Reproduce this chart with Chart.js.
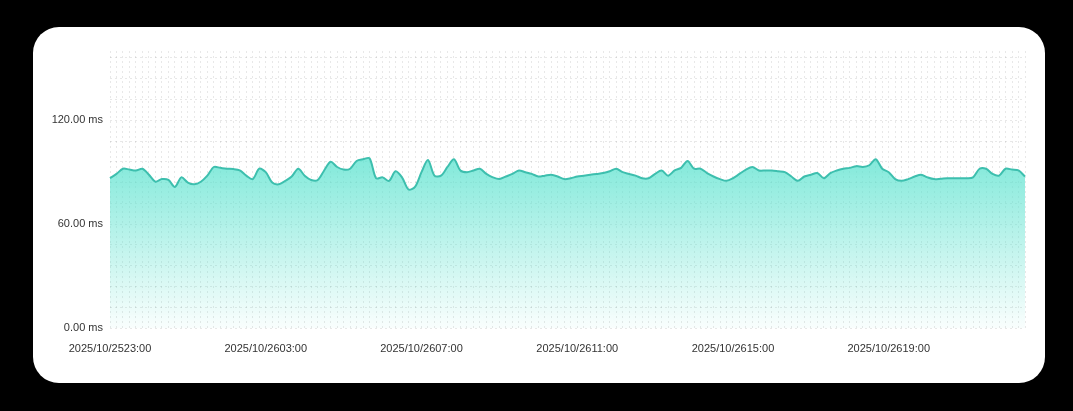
<!DOCTYPE html>
<html><head><meta charset="utf-8">
<script src="https://cdn.jsdelivr.net/npm/chart.js@4/dist/chart.umd.min.js"></script>
<style>
html,body{margin:0;padding:0;background:#000;width:1073px;height:411px;overflow:hidden}
#card{position:absolute;left:33px;top:27px;width:1012px;height:356px;background:#fff;border-radius:26px;overflow:hidden}
canvas{display:block}
</style></head><body>
<div id="card"><canvas id="c" width="1012" height="356"></canvas></div>
<script>
const startLabel = "2025/10/25 23:00";
const stepMinutes = 10;
const latency = [86.5,89,92,91.5,91,92,88.5,84.5,86,85.5,81.5,87,84,83,84.5,88,93,92.5,92,91.8,
91,88,86,92,90,84,83,85,87.5,92,88,85.5,85.5,91,96,93,91.5,92,96.5,97.5,
98,86.5,87,85,90.5,87,80,81.5,90,97,88,88,93,97.5,91,90,91,92,89,87,
86,87.5,89,91,90,89,87.5,88,88.5,87.5,86,86.5,87.5,88,88.5,89,89.5,90.5,92,90,
89,88,86.5,86.5,89,91,88,91,92.5,96.5,92,92,89.5,87.5,86,85,86.5,89,91.5,93,
91,91,91,90.5,90,87.5,85,87.5,88.5,89.5,86.5,89.5,91,92,92.5,93.5,93,94,97.5,92,
90,86,85,86,87.5,88.5,87,86,86.2,86.5,86.5,86.5,86.5,87,92,92,89,88,92,91.5,
91,87.5];
const yTicks = [0,20,40,60,80,100,120,140,160];

const pad = n => String(n).padStart(2,'0');
const t0 = new Date(2025,9,25,23,0);
const labels = latency.map((_,i)=>{
  const d = new Date(t0.getTime()+i*stepMinutes*60000);
  return d.getFullYear()+'/'+pad(d.getMonth()+1)+'/'+pad(d.getDate())+pad(d.getHours())+':'+pad(d.getMinutes());
});

const ctx = document.getElementById('c').getContext('2d');
new Chart(ctx,{
  type:'line',
  data:{labels,datasets:[{
    data:latency,
    borderColor:'#3dbfae',
    borderWidth:2,
    pointRadius:0,
    tension:0.3,
    fill:true,
    backgroundColor:(c)=>{
      const a=c.chart.chartArea; if(!a) return 'rgba(80,225,205,0.8)';
      const g=c.chart.ctx.createLinearGradient(0,a.top+60,0,a.bottom);
      g.addColorStop(0,'rgba(88,226,206,0.95)');
      g.addColorStop(1,'rgba(88,226,206,0.03)');
      return g;
    }
  }]},
  options:{
    responsive:false,animation:false,
    layout:{padding:{top:24,right:20,left:0,bottom:0}},
    plugins:{legend:{display:false},tooltip:{enabled:false}},
    scales:{
      x:{
        grid:{color:'rgba(0,0,0,0.09)',drawTicks:false,borderDash:[2,3]},
        border:{display:false,dash:[2,3]},
        ticks:{autoSkip:false,maxRotation:0,color:'#333',font:{family:'Liberation Sans, Arial',size:11},padding:14,
          callback:(v,i)=> i%24===0 ? labels[i] : ''},
        afterFit:s=>{s.height=55;}
      },
      y:{
        min:0,max:160,
        grid:{color:'rgba(0,0,0,0.09)',drawTicks:false},
        border:{display:false,dash:[2,3]},
        afterBuildTicks:s=>{const t=[];for(let v=0;v<=160;v+=4)t.push({value:v});s.ticks=t;},
        ticks:{color:'#333',font:{family:'Liberation Sans, Arial',size:11},padding:7,
          callback:v=> yTicks.includes(v) ? v.toFixed(2)+' ms' : ''},
        afterFit:s=>{s.width=77;}
      }
    }
  }
});
</script></body></html>
